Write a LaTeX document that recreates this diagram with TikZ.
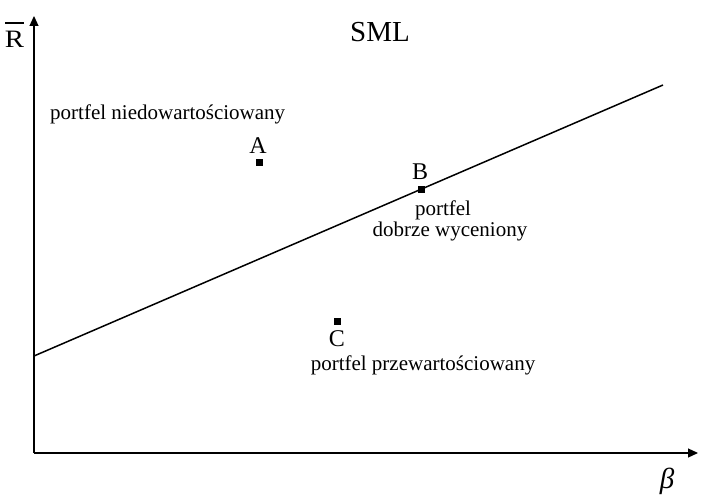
\documentclass[tikz,border=0pt]{standalone}
\usepackage{fontspec}
\setmainfont{Liberation Serif}
\usetikzlibrary{arrows.meta}
\begin{document}
\begin{tikzpicture}[x=1pt,y=-1pt,
  axis/.style={line width=1.2pt,-{Triangle[length=10pt,width=9pt]}},
  sml/.style={line width=1.5pt},
  pt/.style={fill=black,minimum size=7pt,inner sep=0pt,draw=none,rectangle},
  lbl/.style={font=\fontsize{21}{24}\selectfont,inner sep=0pt,align=center},
  let/.style={font=\fontsize{24}{28}\selectfont,inner sep=0pt}]
\useasboundingbox (0,0) rectangle (707,503);
\fill[white] (0,0) rectangle (707,503);
\coordinate (O) at (34,453);
\coordinate (Ytop) at (34,16);
\coordinate (Xend) at (698,453);
\draw[axis] (O) -- (Ytop);
\draw[axis] (O) -- (Xend);
\coordinate (L1) at (34,356);
\coordinate (L2) at (663,85);
\draw[sml] (L1) -- (L2);
\node[pt] (A) at (259,162) {};
\node[pt] (B) at (421,189) {};
\node[pt] (C) at (337,321) {};
\node[let,anchor=base] (Alab) at (258,153) {A};
\node[let,anchor=base] (Blab) at (420,179) {B};
\node[let,anchor=base] (Clab) at (337,346) {C};
\node[lbl,anchor=base west] (under) at (50,119) {portfel niedowartościowany};
\node[lbl,anchor=base] (good1) at (443,215) {portfel};
\node[lbl,anchor=base] (good2) at (450,236) {dobrze wyceniony};
\node[lbl,anchor=base] (over) at (423,370) {portfel przewartościowany};
\node[font=\fontsize{29}{34}\selectfont,inner sep=0pt,anchor=base] (title) at (380,42) {SML};
\node[font=\fontsize{25}{30}\selectfont,inner sep=0pt,anchor=base,xscale=1.15] (R) at (14.5,48) {R};
\coordinate (ob1) at (5,23);
\coordinate (ob2) at (24,23);
\draw[line width=1.8pt] (ob1) -- (ob2);
\node[font=\fontsize{29}{34}\selectfont\itshape,inner sep=0pt,anchor=base] (beta) at (667,488) {β};
\end{tikzpicture}
\end{document}
